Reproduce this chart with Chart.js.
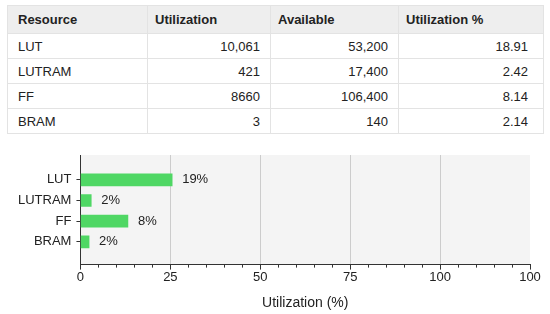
<!DOCTYPE html>
<html>
<head>
<meta charset="utf-8">
<script src="https://cdn.jsdelivr.net/npm/chart.js@4/dist/chart.umd.min.js"></script>
<style>
  html, body { margin: 0; padding: 0; background: #fff; }
  body { width: 550px; height: 314px; position: relative; overflow: hidden;
         font-family: "Liberation Sans", Arial, Helvetica, sans-serif; color: #222; }
  table { position: absolute; left: 7px; top: 5px; width: 536px; border-collapse: collapse;
          font-size: 13px; border: 1px solid #dcdcdc; table-layout: fixed; }
  th, td { border: 1px solid #e3e3e3; padding: 0 10px 0 7px; }
  th:first-child, td:first-child { padding-left: 10px; }
  td:last-child { padding-right: 15px; }
  th { background: #eeeeee; height: 27px; text-align: left; font-weight: bold; }
  td { height: 24px; }
  td.num { text-align: right; }
  #wrap { position: absolute; left: 0; top: 140px; width: 550px; height: 174px; }
</style>
</head>
<body>
<table id="tbl">
  <colgroup><col style="width:140px"><col style="width:123px"><col style="width:128px"><col style="width:145px"></colgroup>
  <thead><tr id="hdr"></tr></thead>
  <tbody id="tb"></tbody>
</table>
<div id="wrap"><canvas id="c"></canvas></div>
<script>
// ---- data ----
const headers = ['Resource', 'Utilization', 'Available', 'Utilization %'];
const categories = ['LUT', 'LUTRAM', 'FF', 'BRAM'];
const utilization = ['10,061', '421', '8660', '3'];
const available = ['53,200', '17,400', '106,400', '140'];
const utilPct = ['18.91', '2.42', '8.14', '2.14'];
const barLengths = [25.5, 3.0, 13.2, 2.4];
const barLabels = ['19%', '2%', '8%', '2%'];
const xTickLabels = ['0', '25', '50', '75', '100', '100'];

// ---- table ----
const hdr = document.getElementById('hdr');
headers.forEach(h => { const th = document.createElement('th'); th.textContent = h; hdr.appendChild(th); });
const tb = document.getElementById('tb');
categories.forEach((c, i) => {
  const tr = document.createElement('tr');
  [c, utilization[i], available[i], utilPct[i]].forEach((v, j) => {
    const td = document.createElement('td'); td.textContent = v;
    if (j > 0) td.className = 'num';
    tr.appendChild(td);
  });
  tb.appendChild(tr);
});

// ---- chart ----
const FONT = '"Liberation Sans", Arial, Helvetica, sans-serif';
const bgPlugin = {
  id: 'plotBg',
  beforeDraw(chart) {
    const a = chart.chartArea, ctx = chart.ctx;
    ctx.save(); ctx.fillStyle = '#f4f4f4';
    ctx.fillRect(a.left, a.top, a.right - a.left, a.bottom - a.top);
    ctx.restore();
  }
};
const minorTicks = {
  id: 'minorTicks',
  afterDraw(chart) {
    const s = chart.scales.x, a = chart.chartArea, ctx = chart.ctx;
    ctx.save(); ctx.strokeStyle = '#333'; ctx.lineWidth = 1;
    for (let v = 5; v < 125; v += 5) {
      if (v % 25 === 0) continue;
      const x = Math.round(s.getPixelForValue(v)) + 0.5;
      ctx.beginPath(); ctx.moveTo(x, a.bottom); ctx.lineTo(x, a.bottom + 3); ctx.stroke();
    }
    ctx.restore();
  }
};
const dataLabels = {
  id: 'dataLabels',
  afterDatasetsDraw(chart) {
    const ctx = chart.ctx;
    const meta = chart.getDatasetMeta(0);
    ctx.save();
    ctx.font = '13px ' + FONT; ctx.fillStyle = '#222';
    ctx.textAlign = 'left'; ctx.textBaseline = 'middle';
    meta.data.forEach((el, i) => { ctx.fillText(barLabels[i], el.x + 10, el.y); });
    ctx.restore();
  }
};

new Chart(document.getElementById('c'), {
  type: 'bar',
  data: {
    datasets: [{
      data: barLengths.map((v, i) => ({ x: v, y: i })),
      backgroundColor: '#4fd764',
      borderWidth: 0,
      barThickness: 12
    }]
  },
  options: {
    indexAxis: 'y',
    responsive: true,
    maintainAspectRatio: false,
    animation: false,
    layout: { padding: { left: 13, right: 20, top: 15, bottom: 0 } },
    plugins: { legend: { display: false }, tooltip: { enabled: false } },
    scales: {
      x: {
        type: 'linear', min: 0, max: 125, position: 'bottom',
        ticks: { stepSize: 25, color: '#222', font: { size: 13, family: FONT }, padding: 0,
                 callback: (v, i) => xTickLabels[i] },
        grid: {
          color: c => (c.tick && c.tick.value > 0 && c.tick.value < 125) ? '#cccccc' : 'rgba(0,0,0,0)',
          tickColor: '#333', tickLength: 5, lineWidth: 1
        },
        border: { display: true, color: '#333', width: 1 },
        title: { display: true, text: 'Utilization (%)', color: '#222',
                 font: { size: 14, family: FONT }, padding: { top: 10, bottom: 2 } }
      },
      y: {
        type: 'linear', reverse: true, min: -1.2, max: 4.1, offset: false, bounds: 'data',
        afterBuildTicks: axis => { axis.ticks = [0, 1, 2, 3].map(v => ({ value: v })); },
        ticks: { color: '#222', font: { size: 13, family: FONT }, padding: 5,
                 callback: v => categories[v] },
        grid: { offset: false, color: 'rgba(0,0,0,0)', tickColor: '#333', tickLength: 4 },
        border: { display: true, color: '#333', width: 1 }
      }
    }
  },
  plugins: [bgPlugin, minorTicks, dataLabels]
});
</script>
</body>
</html>
